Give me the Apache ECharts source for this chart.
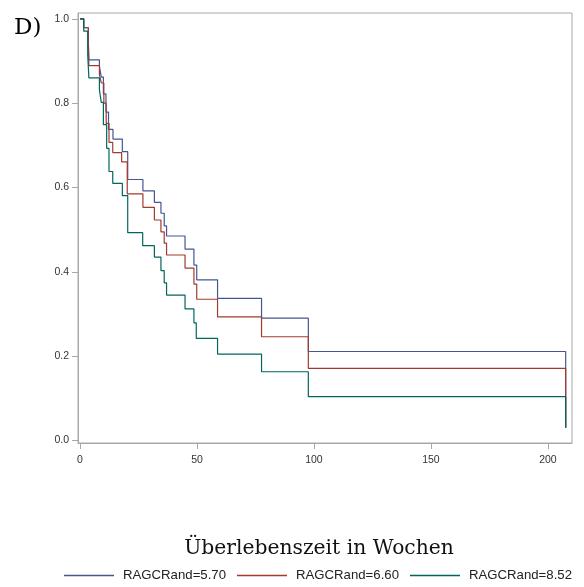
<!DOCTYPE html>
<html>
<head>
<meta charset="utf-8">
<script src="https://cdn.jsdelivr.net/npm/echarts@6/dist/echarts.min.js"></script>
<style>
  html, body { margin: 0; padding: 0; background: #fff; }
  #chart { width: 584px; height: 587px; }
</style>
</head>
<body>
<div id="chart"></div>
<script>
// Kaplan-Meier steps: [week, survival]
const seriesNames = ['RAGCRand=5.70', 'RAGCRand=6.60', 'RAGCRand=8.52'];
const curve570 = [
  [0, 1.0], [1.6, 0.979], [3.6, 0.94], [3.8, 0.903], [8.3, 0.888], [9.1, 0.862],
  [10, 0.822], [11.1, 0.779], [12.2, 0.738], [14.1, 0.715], [18.1, 0.685],
  [20.4, 0.619], [26.9, 0.592], [31.8, 0.565], [34.6, 0.539], [36, 0.509],
  [37, 0.485], [44.9, 0.454], [48.7, 0.416], [49.9, 0.381], [58.8, 0.337],
  [77.6, 0.29], [97.6, 0.211], [207.6, 0.03]
];
const curve660 = [
  [0, 1.0], [1.6, 0.979], [3.6, 0.94], [3.8, 0.889], [8.3, 0.868], [9.1, 0.848],
  [10.2, 0.8], [11.2, 0.752], [12.4, 0.707], [14, 0.683], [17.8, 0.661],
  [20.2, 0.585], [26.9, 0.553], [31.8, 0.523], [34.6, 0.495], [36, 0.468],
  [37, 0.44], [44.9, 0.409], [48.7, 0.371], [49.9, 0.335], [58.8, 0.293],
  [77.6, 0.246], [97.6, 0.171], [207.6, 0.03]
];
const curve852 = [
  [0, 1.0], [1.6, 0.971], [3.3, 0.915], [3.8, 0.86], [8.3, 0.832], [9.1, 0.802],
  [10, 0.749], [11.4, 0.693], [12.4, 0.638], [14, 0.61], [18.1, 0.581],
  [20.4, 0.493], [26.8, 0.462], [31.8, 0.435], [34.6, 0.403], [36, 0.374],
  [37, 0.345], [44.9, 0.312], [48.7, 0.279], [49.7, 0.242], [58.8, 0.205],
  [77.6, 0.163], [97.6, 0.104], [207.6, 0.03]
];
const xTicks = [0, 50, 100, 150, 200];
const yTicks = [0, 0.2, 0.4, 0.6, 0.8, 1.0];
const colors = ['#445694', '#A23A2E', '#01665E'];

const curves = [curve570, curve660, curve852];
const axisGray = '#a8a8a8';
const sans = "'Liberation Sans', Arial, sans-serif";
const serif = "'DejaVu Serif', 'Liberation Serif', serif";

const chart = echarts.init(document.getElementById('chart'));
chart.setOption({
  animation: false,
  grid: {
    left: 78, right: 12, top: 13, bottom: 144,
    show: true, borderColor: axisGray, borderWidth: 1
  },
  xAxis: {
    type: 'value', min: -0.85, max: 210.3,
    axisLine: { show: true, onZero: false, lineStyle: { color: axisGray } },
    axisTick: { show: true, length: 6, customValues: xTicks, lineStyle: { color: axisGray } },
    axisLabel: {
      customValues: xTicks, margin: 12, color: '#333',
      fontFamily: sans, fontSize: 10.5
    },
    splitLine: { show: false }
  },
  yAxis: {
    type: 'value', min: -0.006, max: 1.014,
    axisLine: { show: true, onZero: false, lineStyle: { color: axisGray } },
    axisTick: { show: true, length: 6, customValues: yTicks, lineStyle: { color: axisGray } },
    axisLabel: {
      customValues: yTicks, margin: 9, color: '#333',
      fontFamily: sans, fontSize: 10.5,
      formatter: v => v.toFixed(1)
    },
    splitLine: { show: false }
  },
  legend: {
    left: 64, top: 569, width: 520, padding: 0,
    itemWidth: 50, itemHeight: 1.5, itemGap: 11,
    icon: 'rect',
    textStyle: { fontFamily: sans, fontSize: 13.2, color: '#222', padding: [0, 0, 0, 4] },
    data: seriesNames
  },
  graphic: [
    {
      type: 'text', left: 14, top: 17,
      style: { text: 'D)', font: '23px ' + serif, fill: '#000' }
    },
    {
      type: 'text', x: 319, y: 549,
      style: {
        text: 'Überlebenszeit in Wochen', font: '20.3px ' + serif, fill: '#111',
        align: 'center', verticalAlign: 'middle'
      }
    }
  ],
  series: curves.map((d, i) => ({
    name: seriesNames[i],
    type: 'line',
    step: 'end',
    data: d,
    showSymbol: false,
    color: colors[i],
    lineStyle: { width: 1.2, color: colors[i] }
  }))
});
</script>
</body>
</html>
